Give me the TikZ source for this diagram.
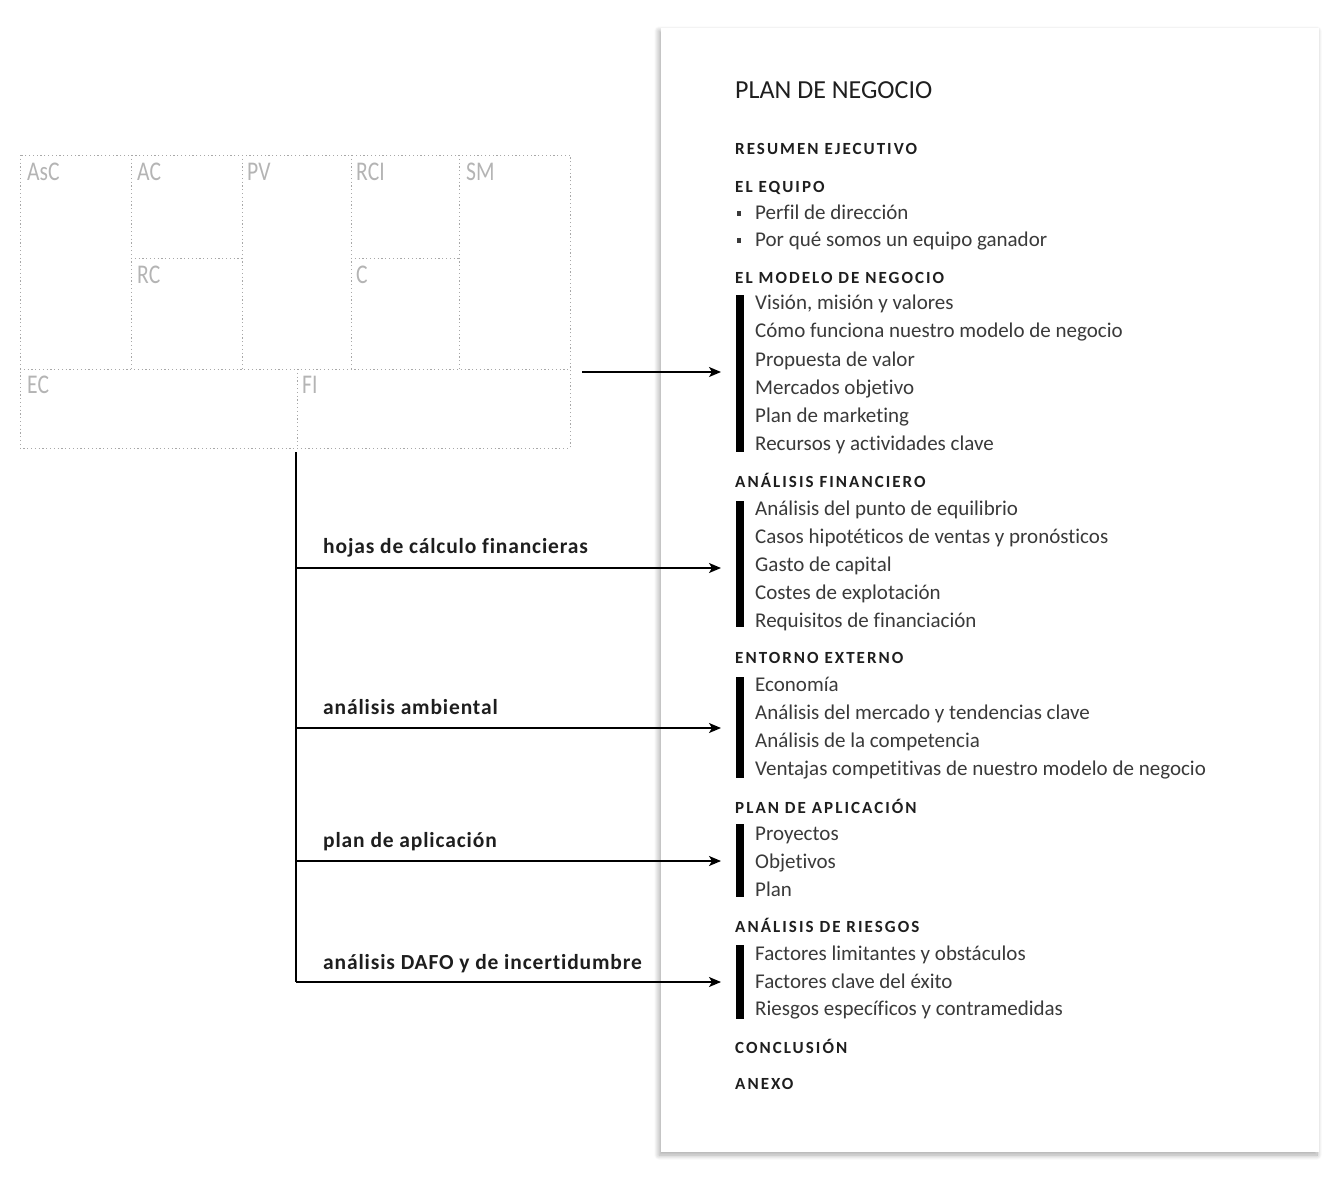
\documentclass[tikz,border=0pt]{standalone}
\usepackage{fontspec}
\setmainfont{Carlito}[Ligatures=NoCommon]
\usetikzlibrary{arrows.meta,shadows.blur}

\definecolor{itemgray}{HTML}{3A3A3A}
\definecolor{headgray}{HTML}{1E1E1E}
\definecolor{canvgray}{HTML}{B4B4B4}
\definecolor{dotgray}{HTML}{A8A8A8}

\begin{document}
\begin{tikzpicture}[x=1pt,y=-1pt,
  item/.style={anchor=base west, inner sep=0pt, font=\fontsize{21}{24}\selectfont, text=itemgray},
  head/.style={anchor=base west, inner sep=0pt,
    font=\bfseries\fontsize{17}{20}\selectfont\addfontfeature{LetterSpace=12}, text=headgray},
  title/.style={anchor=base west, inner sep=0pt, font=\fontsize{26}{29}\selectfont, text=headgray},
  flowlabel/.style={anchor=base west, inner sep=0pt,
    font=\bfseries\fontsize{21.5}{24}\selectfont\addfontfeature{LetterSpace=4}, text=headgray},
  canvlabel/.style={anchor=base west, inner sep=0pt, font=\fontsize{27}{27}\selectfont, text=canvgray},
  grid/.style={draw=dotgray, line width=1pt, dash pattern=on 1.2pt off 2.6pt},
  bar/.style={fill=black, draw=none, inner sep=0pt, minimum width=8pt, anchor=north west},
  bulletbox/.style={fill=itemgray, draw=none, inner sep=0pt, minimum width=4pt, minimum height=5pt},
  conn/.style={draw=black, line width=1.5pt},
  arr/.style={conn, -{Stealth[length=12pt,width=10pt,inset=3pt]}, shorten >=15pt},
]
\useasboundingbox (0,0) rectangle (1324,1176);

% ---------- the document page ----------
\path[fill=white, blur shadow={shadow xshift=-2pt, shadow yshift=-3pt,
      shadow blur radius=5pt, shadow blur steps=10, shadow opacity=35}]
  (661,28) rectangle (1319,1152);

% ---------- the business model canvas ----------
\draw[grid] (20,155) rectangle (570,448);
\draw[grid] (20,369) -- (570,369);
\foreach \cx in {131,242,351,459} \draw[grid] (\cx,155) -- (\cx,369);
\draw[grid] (131,258) -- (242,258);
\draw[grid] (351,258) -- (459,258);
\draw[grid] (297,369) -- (297,448);

\node[canvlabel] (lAsC) at (27,180)  {\scalebox{0.8}[1]{AsC}};
\node[canvlabel] (lAC)  at (137,180) {\scalebox{0.8}[1]{AC}};
\node[canvlabel] (lPV)  at (247,180) {\scalebox{0.8}[1]{PV}};
\node[canvlabel] (lRCI) at (356,180) {\scalebox{0.8}[1]{RCI}};
\node[canvlabel] (lSM)  at (466,180) {\scalebox{0.8}[1]{SM}};
\node[canvlabel] (lRC)  at (137,283) {\scalebox{0.8}[1]{RC}};
\node[canvlabel] (lC)   at (356,283) {\scalebox{0.8}[1]{C}};
\node[canvlabel] (lEC)  at (27,393)  {\scalebox{0.8}[1]{EC}};
\node[canvlabel] (lFI)  at (302,393) {\scalebox{0.8}[1]{FI}};

% ---------- contents of the business plan ----------
\node[title] (title) at (735,98) {PLAN DE NEGOCIO};

\node[head] (hRes) at (735,154) {RESUMEN EJECUTIVO};

\node[head] (hEq) at (735,192) {EL EQUIPO};
\node[bulletbox] (bul1) at (739,213) {};
\node[item] (q1) at (755,219) {Perfil de dirección};
\node[bulletbox] (bul2) at (739,240) {};
\node[item] (q2) at (755,246) {Por qué somos un equipo ganador};

\node[head] (hMod) at (735,283) {EL MODELO DE NEGOCIO};
\node[bar, minimum height=157pt] (barM) at (736,295) {};
\node[item] (m1) at (755,309) {Visión, misión y valores};
\node[item] (m2) at (755,337) {Cómo funciona nuestro modelo de negocio};
\node[item] (m3) at (755,366) {Propuesta de valor};
\node[item] (m4) at (755,394) {Mercados objetivo};
\node[item] (m5) at (755,422) {Plan de marketing};
\node[item] (m6) at (755,450) {Recursos y actividades clave};

\node[head] (hFin) at (735,487) {ANÁLISIS FINANCIERO};
\node[bar, minimum height=126pt] (barF) at (736,501) {};
\node[item] (f1) at (755,515) {Análisis del punto de equilibrio};
\node[item] (f2) at (755,543) {Casos hipotéticos de ventas y pronósticos};
\node[item] (f3) at (755,571) {Gasto de capital};
\node[item] (f4) at (755,599) {Costes de explotación};
\node[item] (f5) at (755,627) {Requisitos de financiación};

\node[head] (hEnt) at (735,663) {ENTORNO EXTERNO};
\node[bar, minimum height=101pt] (barE) at (736,677) {};
\node[item] (e1) at (755,691) {Economía};
\node[item] (e2) at (755,719) {Análisis del mercado y tendencias clave};
\node[item] (e3) at (755,747) {Análisis de la competencia};
\node[item] (e4) at (755,775) {Ventajas competitivas de nuestro modelo de negocio};

\node[head] (hApl) at (735,813) {PLAN DE APLICACIÓN};
\node[bar, minimum height=73pt] (barA) at (736,824) {};
\node[item] (a1) at (755,840) {Proyectos};
\node[item] (a2) at (755,868) {Objetivos};
\node[item] (a3) at (755,896) {Plan};

\node[head] (hRie) at (735,932) {ANÁLISIS DE RIESGOS};
\node[bar, minimum height=74pt] (barR) at (736,945) {};
\node[item] (r1) at (755,960) {Factores limitantes y obstáculos};
\node[item] (r2) at (755,988) {Factores clave del éxito};
\node[item] (r3) at (755,1015) {Riesgos específicos y contramedidas};

\node[head] (hCon) at (735,1053) {CONCLUSIÓN};
\node[head] (hAnx) at (735,1089) {ANEXO};

% ---------- connectors ----------
\coordinate (canvasR) at (582,372);
\coordinate (canvasB) at (296,452);
\coordinate (b1) at (296,568);
\coordinate (b2) at (296,728);
\coordinate (b3) at (296,861);
\coordinate (b4) at (296,982);

\draw[arr] (canvasR) -- (canvasR -| barM.west);
\draw[conn] (canvasB) -- (b4);
\draw[arr] (b1) -- (b1 -| barF.west);
\draw[arr] (b2) -- (b2 -| barE.west);
\draw[arr] (b3) -- (b3 -| barA.west);
\draw[arr] (b4) -- (b4 -| barR.west);

\node[flowlabel] (t1) at (323,553) {hojas de cálculo financieras};
\node[flowlabel] (t2) at (323,714) {análisis ambiental};
\node[flowlabel] (t3) at (323,847) {plan de aplicación};
\node[flowlabel] (t4) at (323,969) {análisis DAFO y de incertidumbre};
\end{tikzpicture}
\end{document}
